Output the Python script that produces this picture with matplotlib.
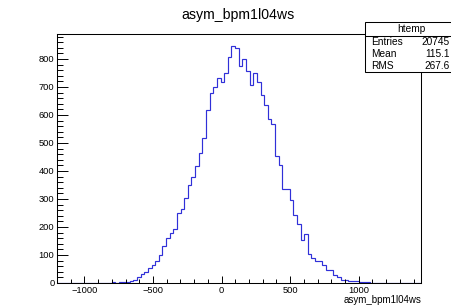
import numpy as np
import matplotlib
matplotlib.use('Agg')
import matplotlib.pyplot as plt
from matplotlib.patches import Rectangle
from matplotlib.lines import Line2D

plt.rcParams['font.family'] = ['Liberation Sans', 'DejaVu Sans']

# ---------------- data ----------------
title = "asym_bpm1l04ws"
x_label = "asym_bpm1l04ws"
x_min, x_max, n_bins = -1200.0, 1450.0, 100
counts = [
    0, 0, 0, 0, 0, 0, 0, 0, 0, 0,
    0, 1, 0, 1, 1, 2, 1, 3, 5, 4,
    8, 12, 20, 33, 40, 55, 66, 78, 100, 133,
    160, 178, 193, 250, 264, 303, 351, 377, 416, 463,
    517, 616, 678, 701, 731, 719, 749, 808, 847, 839,
    774, 800, 758, 707, 749, 719, 671, 636, 586, 566,
    453, 422, 336, 334, 298, 241, 209, 152, 176, 102,
    91, 80, 77, 63, 47, 45, 30, 20, 12, 10,
    6, 8, 8, 5, 2, 2, 1, 1, 0, 0,
    0, 0, 0, 0, 0, 0, 0, 0, 0, 0,
]
y_max = 889
x_major = [-1000, -500, 0, 500, 1000]
y_major = [0, 100, 200, 300, 400, 500, 600, 700, 800]
stats_name = "htemp"
stats_labels = ["Entries", "Mean", "RMS"]
stats_values = ["20745", "115.1", "267.6"]

# ---------------- figure ----------------
W, H = 451, 308
fig = plt.figure(figsize=(W / 100, H / 100), dpi=100)
fig.patch.set_facecolor('white')

def fx(px):
    return px / W

def fy(py):
    return 1 - py / H

L, R, T, B = 57, 420.5, 34, 283
ax = fig.add_axes([fx(L), fy(B), fx(R) - fx(L), fy(T) - fy(B)])

edges = np.linspace(x_min, x_max, n_bins + 1)
ax.stairs(counts, edges, color='#3030d8', linewidth=0.85, baseline=None)

ax.set_xlim(x_min, x_max)
ax.set_ylim(0, y_max)

ax.set_xticks(x_major)
ax.set_xticks(np.arange(-1200, 1450, 100), minor=True)
ax.set_yticks(y_major)
ax.set_yticks(np.arange(0, 889, 20), minor=True)
ax.set_xticklabels([f"{v}".replace('-', '\u2212') for v in x_major])

ax.tick_params(axis='x', which='major', direction='in', length=5.4, width=0.7,
               labelsize=6.7, pad=2.3, top=False)
ax.tick_params(axis='x', which='minor', direction='in', length=2.7, width=0.7, top=False)
ax.tick_params(axis='y', which='major', direction='in', length=7.9, width=0.7,
               labelsize=6.7, pad=1.8, right=False)
ax.tick_params(axis='y', which='minor', direction='in', length=4.0, width=0.7, right=False)
for s in ax.spines.values():
    s.set_linewidth(0.75)
    s.set_color('black')

# title
fig.text(fx(238), fy(15), title, ha='center', va='center', fontsize=10.2)
# x-axis label
fig.text(fx(421), fy(300), x_label, ha='right', va='center', fontsize=7)

# stats box
bx0, bx1, by0, by1, bsep = 365, 458, 22.3, 72.3, 35.7
rect = Rectangle((fx(bx0), fy(by1)), fx(bx1) - fx(bx0), fy(by0) - fy(by1),
                 transform=fig.transFigure, facecolor='white', edgecolor='black',
                 linewidth=0.75, zorder=10, clip_on=False)
fig.add_artist(rect)
fig.add_artist(Line2D([fx(bx0), fx(bx1)], [fy(bsep), fy(bsep)],
                      transform=fig.transFigure, color='black', linewidth=0.75,
                      zorder=11))
fig.text(fx(411.5), fy(29), stats_name, ha='center', va='center', fontsize=7.3, zorder=12)
row_y = [42, 54, 65.7]
for lab, val, yy in zip(stats_labels, stats_values, row_y):
    fig.text(fx(371), fy(yy), lab, ha='left', va='center', fontsize=7.3, zorder=12)
    fig.text(fx(449.5), fy(yy), val, ha='right', va='center', fontsize=7.3, zorder=12)

fig.savefig('out.png', dpi=100)
